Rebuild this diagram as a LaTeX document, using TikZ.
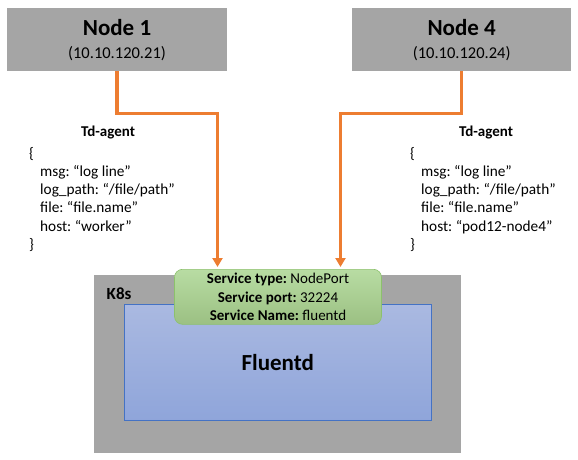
\documentclass[tikz,border=0pt]{standalone}
\usepackage{fontspec}
\setmainfont{Carlito}
\usetikzlibrary{arrows.meta}
\usetikzlibrary{positioning}
\frenchspacing

\definecolor{hostgray}{HTML}{A5A5A5}
\definecolor{linkorange}{HTML}{ED7D31}
\definecolor{svcgreen}{HTML}{A9D18E}
\definecolor{svcgreentop}{HTML}{B8DCA3}
\definecolor{svcgreenline}{HTML}{8CC16C}
\definecolor{podblue}{HTML}{8FA5DA}
\definecolor{podbluetop}{HTML}{AAB9E1}
\definecolor{podblueline}{HTML}{4472C4}

\tikzset{
  hostbox/.style={fill=hostgray, minimum width=219.5, minimum height=63, align=center, inner sep=0,
    font=\fontsize{16.5}{23}\selectfont},
  link/.style={draw=linkorange, line width=3.4pt, shorten >=2pt, -{Triangle[width=10pt,length=9pt]}},
  agenthead/.style={inner sep=0, font=\fontsize{15}{15}\selectfont\bfseries},
  agent/.style={align=left, anchor=north west, inner sep=0, font=\fontsize{15.3}{18.2}\selectfont}
}

\begin{document}
\begin{tikzpicture} [x=1pt, y=-1pt]
\useasboundingbox (0,0) rectangle (578,460);
% hosts
\node[hostbox] (node1) at (117,39.7) {{\fontsize{23}{23}\selectfont\bfseries Node 1}\\(10.10.120.21)};
\node[hostbox] (node4) at (461.7,39.7) {{\fontsize{23}{23}\selectfont\bfseries Node 4}\\(10.10.120.24)};
% cluster
\node[fill=hostgray, minimum width=366.7, minimum height=178, inner sep=0] (k8s) at (277.3,364) {};
\node[anchor=west, inner sep=0, font=\fontsize{17}{17}\selectfont\bfseries] (k8slabel) at (106.5,293.3) {K8s};
\node[top color=podbluetop, bottom color=podblue, draw=podblueline, line width=0.6pt, minimum width=306.7, minimum height=116.3, inner sep=0,
  font=\fontsize{23}{23}\selectfont\bfseries] (fluentd) at (277.7,362.2) {Fluentd};
\node[top color=svcgreentop, bottom color=svcgreen!92!black, draw=svcgreenline, line width=0.6pt, rounded corners=8pt,
  minimum width=207, minimum height=55, inner sep=0, align=center, font=\fontsize{15}{18.3}\selectfont] (svc) at (278,296.8)
  {\textbf{Service type:} NodePort\\\textbf{Service port:} 32224\\\textbf{Service Name:} fluentd};
% td-agent records
\node[agenthead] (agent1) at (108,133) {Td-agent};
\node[agent] (rec1) at (29,147) {\{\\\hspace*{11pt}msg: “log line”\\\hspace*{11pt}log\_path: “/file/path”\\\hspace*{11pt}file: “file.name”\\\hspace*{11pt}host: “worker”\\\}};
\node[agenthead] (agent4) at (486,133) {Td-agent};
\node[agent] (rec4) at (410,147) {\{\\\hspace*{11pt}msg: “log line”\\\hspace*{11pt}log\_path: “/file/path”\\\hspace*{11pt}file: “file.name”\\\hspace*{11pt}host: “pod12-node4”\\\}};
% links
\coordinate (bend1) at (217.5,113.3);
\coordinate (bend4) at (340.5,113.3);
\draw[link] (node1.south) |- (bend1) -- (bend1 |- svc.north);
\draw[link] (node4.south) |- (bend4) -- (bend4 |- svc.north);
\end{tikzpicture}
\end{document}
